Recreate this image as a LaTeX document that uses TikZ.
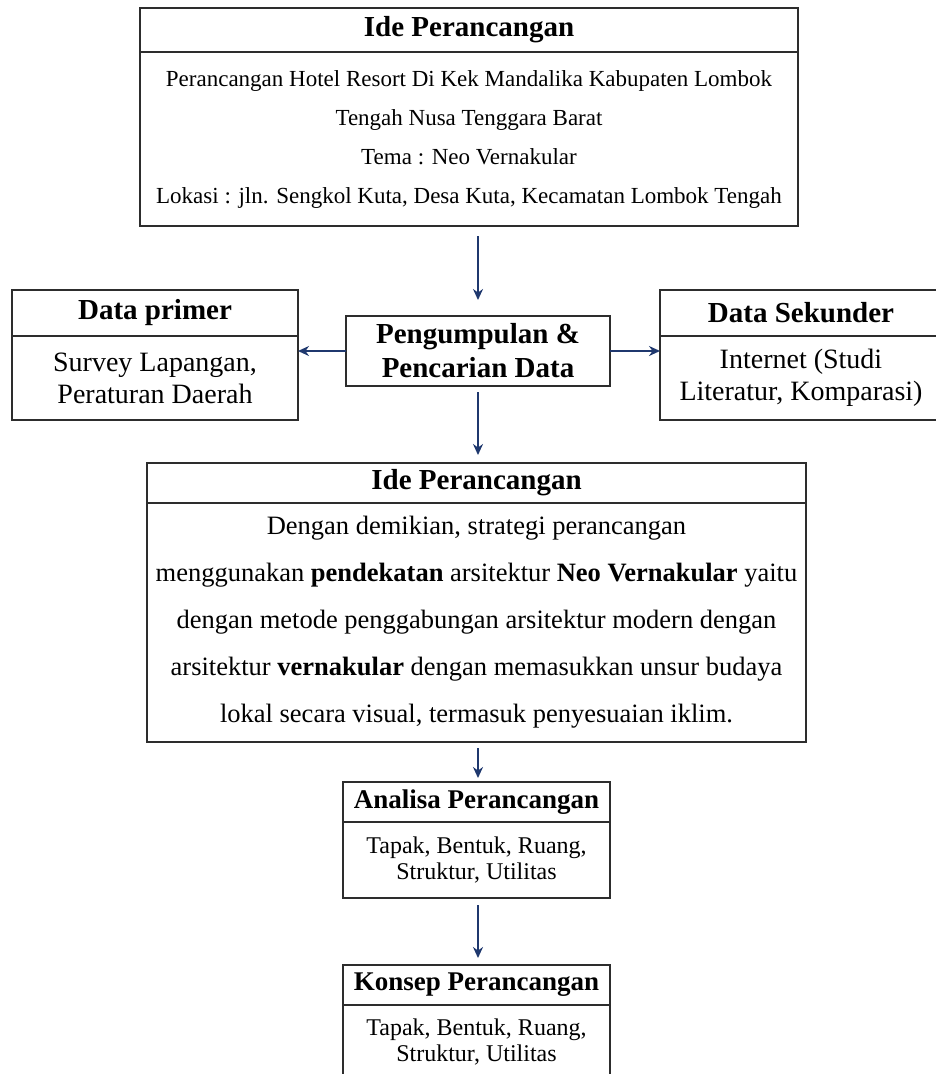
\documentclass[tikz,border=0pt]{standalone}
\usepackage{fontspec}
\setmainfont{Liberation Serif}
\usetikzlibrary{arrows.meta,positioning}

\definecolor{boxline}{RGB}{45,45,45}
\definecolor{arrowblue}{RGB}{31,56,110}

\tikzset{
  headbox/.style={draw=boxline, line width=1.3pt, inner sep=0pt, outer sep=0pt, align=center,
    font=\fontsize{29}{32}\selectfont\bfseries},
  bodybox/.style={draw=boxline, line width=1.3pt, inner sep=0pt, outer sep=0pt, align=center},
  arr/.style={-{Stealth[length=11pt,width=10pt]}, line width=2pt, draw=arrowblue},
}

\begin{document}
\begin{tikzpicture}[x=1pt, y=-1pt]
    \clip (0,0) rectangle (936,1074);

    % top block
    \node [headbox, minimum width=658pt, minimum height=44pt] (ideh) at (469,30) {Ide Perancangan};
    \node [bodybox, below=0pt of ideh, minimum width=658pt, minimum height=174pt,
      font=\fontsize{23}{39}\selectfont] (ideb)
      {Perancangan Hotel Resort Di Kek Mandalika Kabupaten Lombok\\
       Tengah Nusa Tenggara Barat\\
       Tema : Neo Vernakular\\
       Lokasi : jln. Sengkol Kuta, Desa Kuta, Kecamatan Lombok Tengah};

    % data collection row
    \node [headbox, minimum width=264pt, minimum height=70pt,
      font=\fontsize{29}{34}\selectfont\bfseries] (kumpul) at (478,351) {Pengumpulan \&\\ Pencarian Data};
    \node [headbox, minimum width=286pt, minimum height=46pt] (primerh) at (155,313) {Data primer};
    \node [bodybox, below=0pt of primerh, minimum width=286pt, minimum height=84pt,
      font=\fontsize{28}{32}\selectfont] (primerb) {Survey Lapangan,\\ Peraturan Daerah};
    \node [headbox, minimum width=282pt, minimum height=46pt] (sekunderh) at (801,313) {Data Sekunder};
    \node [bodybox, below=0pt of sekunderh, minimum width=282pt, minimum height=84pt,
      font=\fontsize{28}{32}\selectfont] (sekunderb) {Internet (Studi\\ Literatur, Komparasi)};

    % strategy block
    \node [headbox, minimum width=659pt, minimum height=40pt] (strath) at (476.5,483) {Ide Perancangan};
    \node [bodybox, below=0pt of strath, minimum width=659pt, minimum height=239pt,
      font=\fontsize{26.5}{47}\selectfont] (stratb)
      {Dengan demikian, strategi perancangan\\
       menggunakan \textbf{pendekatan} arsitektur \textbf{Neo Vernakular} yaitu\\
       dengan metode penggabungan arsitektur modern dengan\\
       arsitektur \textbf{vernakular} dengan memasukkan unsur budaya\\
       lokal secara visual, termasuk penyesuaian iklim.};

    % analysis and concept
    \node [headbox, minimum width=267pt, minimum height=40pt,
      font=\fontsize{27}{30}\selectfont\bfseries] (analisah) at (476.5,802) {Analisa Perancangan};
    \node [bodybox, below=0pt of analisah, minimum width=267pt, minimum height=76pt,
      font=\fontsize{24}{26}\selectfont] (analisab) {Tapak, Bentuk, Ruang,\\ Struktur, Utilitas};
    \node [headbox, minimum width=267pt, minimum height=40pt,
      font=\fontsize{27}{30}\selectfont\bfseries] (konseph) at (476.5,985) {Konsep Perancangan};
    \node [bodybox, below=0pt of konseph, minimum width=267pt, minimum height=120pt,
      font=\fontsize{24}{26}\selectfont, text depth=50pt] (konsepb) {Tapak, Bentuk, Ruang,\\ Struktur, Utilitas};

    \draw [arr, shorten <=10pt, shorten >=16pt] (ideb.south -| kumpul.north) -- (kumpul.north);
    \draw [arr] (kumpul.west) -- (kumpul.west -| primerb.east);
    \draw [arr] (kumpul.east) -- (kumpul.east -| sekunderb.west);
    \draw [arr, shorten <=6pt, shorten >=8pt] (kumpul.south) -- (kumpul.south |- strath.north);
    \draw [arr, shorten <=6pt, shorten >=4pt] (stratb.south -| kumpul.south) -- (kumpul.south |- analisah.north);
    \draw [arr, shorten <=7pt, shorten >=7pt] (analisab.south -| kumpul.south) -- (kumpul.south |- konseph.north);
\end{tikzpicture}
\end{document}
